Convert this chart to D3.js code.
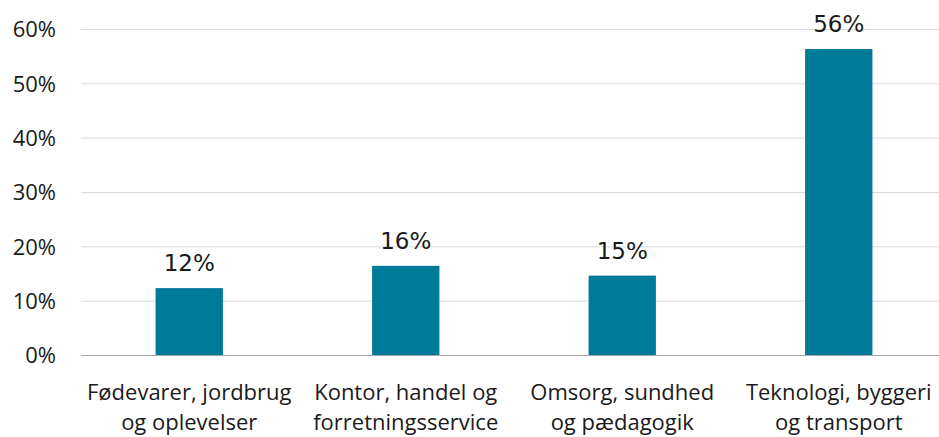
<!DOCTYPE html>
<html>
<head>
<meta charset="utf-8">
<script src="https://cdn.jsdelivr.net/npm/d3@7"></script>
<style>
  body { margin: 0; background: #fff; }
  svg { display: block; font-family: "Open Sans", sans-serif; }
  .tick-label { font-size: 22px; fill: #1a1a1a; }
  .bar-label { font-family: "DejaVu Sans", sans-serif; font-size: 23px; fill: #1a1a1a; }
  .cat-label { font-size: 22px; fill: #1a1a1a; }
</style>
</head>
<body>
<svg width="939" height="437"></svg>
<script>
// Data
const categories = [
  ["Fødevarer, jordbrug", "og oplevelser"],
  ["Kontor, handel og", "forretningsservice"],
  ["Omsorg, sundhed", "og pædagogik"],
  ["Teknologi, byggeri", "og transport"],
];
const values = [0.124, 0.165, 0.147, 0.564];
const valueLabels = ["12%", "16%", "15%", "56%"];
const yTicks = [0, 0.1, 0.2, 0.3, 0.4, 0.5, 0.6];

const svg = d3.select("svg");

const plotLeft = 81;
const plotRight = 947;
const plotTop = 29.5;
const plotBottom = 355.5;

const x = d3.scaleBand()
  .domain(d3.range(categories.length))
  .range([plotLeft, plotRight])
  .padding(0);

const barWidth = x.bandwidth() * 0.311;

const y = d3.scaleLinear().domain([0, 0.6]).range([plotBottom, plotTop]);

// Gridlines
svg.selectAll(".grid")
  .data(yTicks.filter((d) => d > 0))
  .enter()
  .append("line")
  .attr("class", "grid")
  .attr("x1", plotLeft)
  .attr("x2", plotRight)
  .attr("y1", (d) => y(d))
  .attr("y2", (d) => y(d))
  .attr("stroke", "#d9d9d9")
  .attr("stroke-width", 1);

// Y tick labels
svg.selectAll(".tick-label")
  .data(yTicks)
  .enter()
  .append("text")
  .attr("class", "tick-label")
  .attr("x", 56)
  .attr("y", (d) => y(d))
  .attr("dy", "0.35em")
  .attr("text-anchor", "end")
  .text((d) => d3.format(".0%")(d));

// Bars
svg.selectAll(".bar")
  .data(values)
  .enter()
  .append("rect")
  .attr("class", "bar")
  .attr("x", (d, i) => x(i) + (x.bandwidth() - barWidth) / 2)
  .attr("y", (d) => y(d))
  .attr("width", barWidth)
  .attr("height", (d) => y(0) - y(d))
  .attr("fill", "#007a99");

// Axis baseline
svg.append("line")
  .attr("x1", plotLeft)
  .attr("x2", plotRight)
  .attr("y1", y(0))
  .attr("y2", y(0))
  .attr("stroke", "#a6a6a6")
  .attr("stroke-width", 1);

// Value labels
svg.selectAll(".bar-label")
  .data(values)
  .enter()
  .append("text")
  .attr("class", "bar-label")
  .attr("x", (d, i) => x(i) + x.bandwidth() / 2)
  .attr("y", (d) => y(d) - 17)
  .attr("text-anchor", "middle")
  .text((d, i) => valueLabels[i]);

// Category labels (two lines)
const cat = svg.selectAll(".cat-label")
  .data(categories)
  .enter()
  .append("text")
  .attr("class", "cat-label")
  .attr("text-anchor", "middle");

cat.selectAll("tspan")
  .data((d, i) => d.map((line, j) => ({ line, i, j })))
  .enter()
  .append("tspan")
  .attr("x", (d) => x(d.i) + x.bandwidth() / 2)
  .attr("y", (d) => 400 + d.j * 30)
  .text((d) => d.line);
</script>
</body>
</html>
